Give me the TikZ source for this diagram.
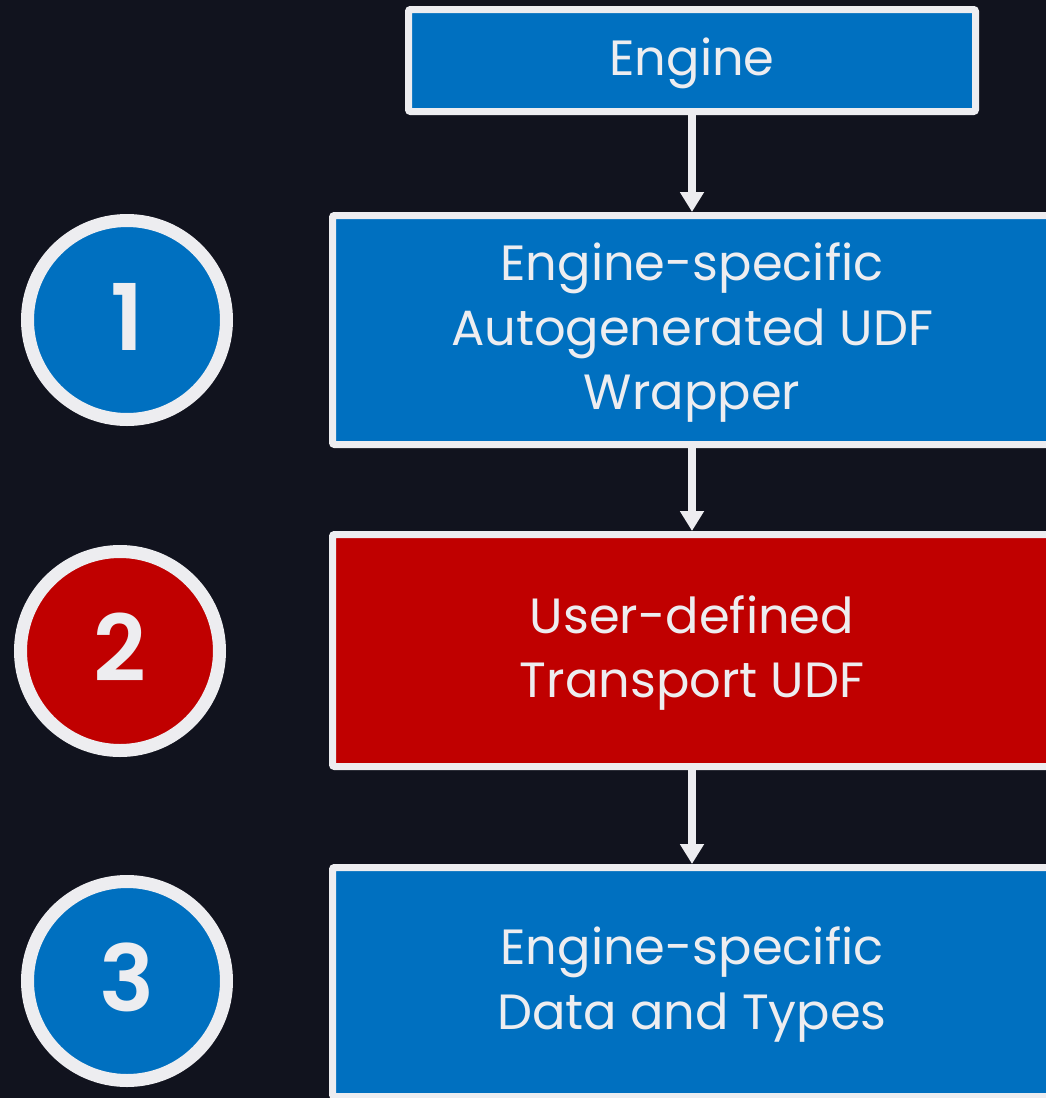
\documentclass[tikz,border=0pt]{standalone}
\usepackage{fontspec}
\setmainfont{Poppins}
\newfontfamily\numfont{Poppins}[UprightFont={* SemiBold}]
\usetikzlibrary{arrows.meta}
\definecolor{bgc}{RGB}{17,19,30}
\definecolor{edgec}{RGB}{237,237,240}
\definecolor{bluec}{RGB}{0,112,192}
\definecolor{redc}{RGB}{192,0,0}
\newcommand\mytop{\rule{0pt}{45pt}}
\newcommand\mybot{\rule[-15pt]{0pt}{0pt}}
\tikzset{
  boxnode/.style={draw=edgec, line width=7pt, rounded corners=2pt, text=edgec, align=center,
    inner sep=0pt, font=\fontsize{49.5}{64.5}\selectfont},
  numnode/.style={circle, draw=edgec, line width=13pt, minimum size=199pt, inner sep=0pt,
    text=edgec, text depth=7pt, font=\fontsize{92}{92}\selectfont\numfont},
  flowarrow/.style={draw=edgec, line width=7.5pt, -{Triangle[width=23pt,length=20pt]}}
}
\begin{document}
\begin{tikzpicture}[x=1pt,y=-1pt]
\fill[bgc] (0,0) rectangle (1046,1098);
\useasboundingbox (0,0) rectangle (1046,1098);
\clip (0,0) rectangle (1046,1098);
\node[boxnode, fill=bluec, minimum width=567pt, minimum height=102pt] (engine) at (692,60.5) {\mytop Engine\mybot};
\node[boxnode, fill=bluec, minimum width=719pt, minimum height=229pt] (wrap) at (692,330) {\mytop Engine-specific\\Autogenerated UDF\\Wrapper\mybot};
\node[boxnode, fill=redc, minimum width=719pt, minimum height=232pt] (udf) at (692,650.5) {\mytop User-defined\\Transport UDF\mybot};
\node[boxnode, fill=bluec, minimum width=719pt, minimum height=229pt] (data) at (692,982) {\mytop Engine-specific\\Data and Types\mybot};
\node[numnode, fill=bluec] (n1) at (127,320) {1};
\node[numnode, fill=redc] (n2) at (120,651) {2};
\node[numnode, fill=bluec] (n3) at (127,981) {3};
\draw[flowarrow] (engine) -- (wrap);
\draw[flowarrow] (wrap) -- (udf);
\draw[flowarrow] (udf) -- (data);
\end{tikzpicture}
\end{document}
